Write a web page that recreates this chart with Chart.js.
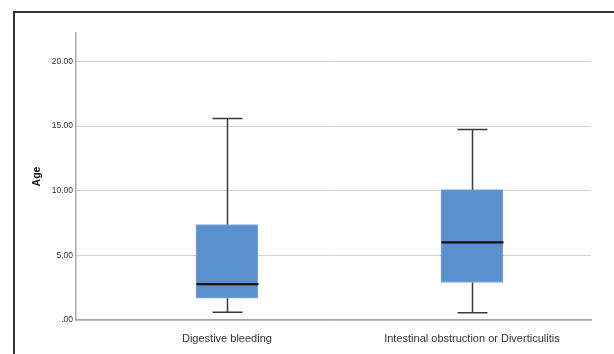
<!DOCTYPE html>
<html lang="en">
<head>
    <meta charset="UTF-8">
    <title>Age box plot</title>
    <script src="https://cdn.jsdelivr.net/npm/chart.js"></script>
    <style>
        html, body { margin: 0; padding: 0; background: #fff; }
        #wrap { width: 614px; height: 354px; }
    </style>
</head>
<body>
    <div id="wrap"><canvas id="boxChart" width="614" height="354"></canvas></div>
    <script>
        // categories and box stats
        const categories = ['Digestive bleeding', 'Intestinal obstruction or Diverticulitis'];
        const catPos = [1, 2];
        const whiskerLow = [0.6, 0.57];
        const q1 = [1.68, 2.9];
        const median = [2.77, 6.0];
        const q3 = [7.39, 10.08];
        const whiskerHigh = [15.58, 14.73];

        const yTicks = [0, 5, 10, 15, 20];
        const yTickLabels = ['.00', '5,00', '10.00', '15.00', '20.00'];

        const boxData = catPos.map((x, i) => ({ x: x, y: [q1[i], q3[i]] }));

        // whiskers, caps and medians drawn through the scales
        const whiskerPlugin = {
            id: 'whiskers',
            afterDatasetsDraw(chart) {
                const ctx = chart.ctx;
                const xs = chart.scales.x;
                const ys = chart.scales.y;
                ctx.save();
                catPos.forEach((c, i) => {
                    const x = Math.round(xs.getPixelForValue(c)) + 0.5;
                    ctx.strokeStyle = '#3a3a3a';
                    ctx.lineWidth = 1.5;
                    ctx.beginPath();
                    ctx.moveTo(x, ys.getPixelForValue(q3[i]));
                    ctx.lineTo(x, ys.getPixelForValue(whiskerHigh[i]));
                    ctx.moveTo(x, ys.getPixelForValue(q1[i]));
                    ctx.lineTo(x, ys.getPixelForValue(whiskerLow[i]));
                    ctx.moveTo(x - 15, ys.getPixelForValue(whiskerHigh[i]));
                    ctx.lineTo(x + 15, ys.getPixelForValue(whiskerHigh[i]));
                    ctx.moveTo(x - 15, ys.getPixelForValue(whiskerLow[i]));
                    ctx.lineTo(x + 15, ys.getPixelForValue(whiskerLow[i]));
                    ctx.stroke();
                    ctx.strokeStyle = '#111';
                    ctx.lineWidth = 2.2;
                    ctx.beginPath();
                    ctx.moveTo(x - 31, ys.getPixelForValue(median[i]));
                    ctx.lineTo(x + 31, ys.getPixelForValue(median[i]));
                    ctx.stroke();
                });
                ctx.restore();
            }
        };

        // the outer frame of the figure
        const framePlugin = {
            id: 'frame',
            beforeDraw(chart) {
                const ctx = chart.ctx;
                ctx.save();
                ctx.strokeStyle = '#333';
                ctx.lineWidth = 2;
                ctx.beginPath();
                ctx.moveTo(14, 354);
                ctx.lineTo(14, 12);
                ctx.lineTo(614, 12);
                ctx.stroke();
                ctx.restore();
            }
        };

        new Chart(document.getElementById('boxChart'), {
            type: 'bar',
            data: {
                datasets: [{
                    data: boxData,
                    backgroundColor: '#5b8fcd',
                    borderColor: '#80aade',
                    borderWidth: 1,
                    borderSkipped: false,
                    barThickness: 62
                }]
            },
            options: {
                responsive: false,
                animation: false,
                layout: { padding: { left: 0, right: 23, top: 33, bottom: 0 } },
                plugins: { legend: { display: false }, tooltip: { enabled: false } },
                scales: {
                    x: {
                        type: 'linear',
                        offset: false,
                        min: 0.384,
                        max: 2.486,
                        afterBuildTicks: (scale) => { scale.ticks = catPos.map(v => ({ value: v })); },
                        afterFit: (scale) => { scale.height = 34; },
                        grid: { display: false, drawTicks: false, offset: false },
                        border: { display: true, color: '#a8a8a8', width: 1.5 },
                        ticks: {
                            autoSkip: false,
                            maxRotation: 0,
                            padding: 12,
                            color: '#333',
                            font: { family: 'Liberation Sans, Arial', size: 11 },
                            callback: (v) => categories[catPos.indexOf(v)]
                        }
                    },
                    y: {
                        min: 0,
                        max: 22.2,
                        afterBuildTicks: (scale) => { scale.ticks = yTicks.map(v => ({ value: v })); },
                        afterFit: (scale) => { scale.width = 76; },
                        grid: { color: '#d0d0d0', lineWidth: 1, drawTicks: false },
                        border: { display: true, color: '#a8a8a8', width: 1.5 },
                        ticks: {
                            padding: 3,
                            color: '#333',
                            font: { family: 'Liberation Sans, Arial', size: 8.5 },
                            callback: (v) => yTickLabels[yTicks.indexOf(v)]
                        },
                        title: {
                            display: true,
                            text: 'Age',
                            color: '#111',
                            font: { family: 'Liberation Sans, Arial', size: 10.5, weight: 'bold' },
                            padding: { top: 31, bottom: 0 }
                        }
                    }
                }
            },
            plugins: [framePlugin, whiskerPlugin]
        });
    </script>
</body>
</html>
